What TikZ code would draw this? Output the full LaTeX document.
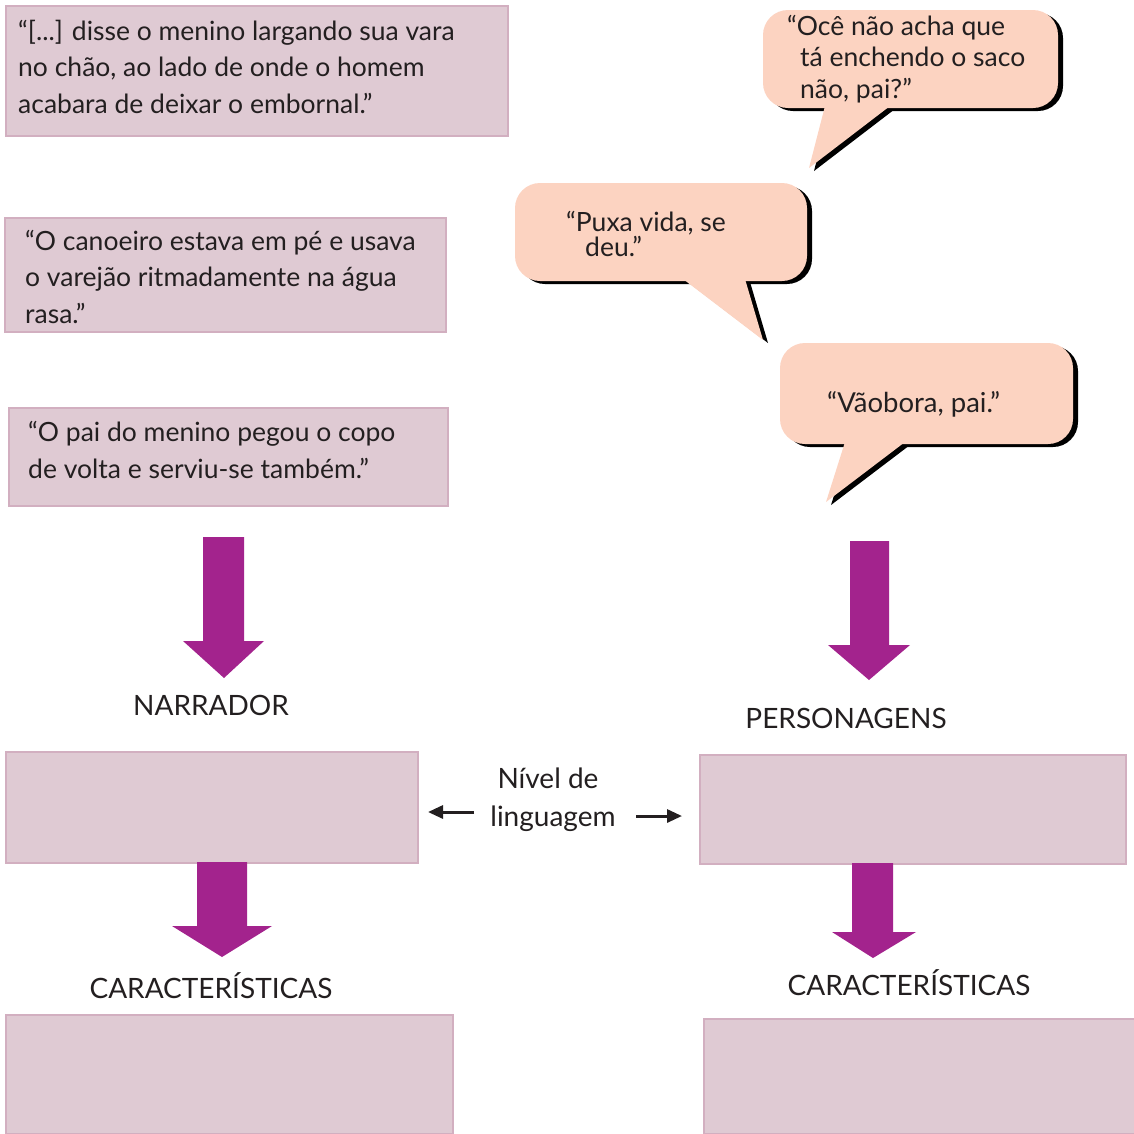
\documentclass[tikz,border=0pt]{standalone}
\usepackage{fontspec}
\setmainfont{Lato}
\usetikzlibrary{arrows.meta}
\definecolor{boxfill}{HTML}{DFCAD3}
\definecolor{boxdraw}{HTML}{D2AFC0}
\definecolor{arrowc}{HTML}{A3238D}
\definecolor{bubfill}{HTML}{FCD3C1}
\definecolor{textc}{HTML}{231F20}
\begin{document}
\begin{tikzpicture}[x=1pt,y=-1pt,
  qbox/.style={fill=boxfill, draw=boxdraw, line width=1.5pt, anchor=north west, inner sep=0pt},
  txt/.style={inner sep=0pt, text=textc, align=left, anchor=base west, font=\fontsize{26.5}{36.3}\selectfont},
  btxt/.style={inner sep=0pt, text=textc, align=left, anchor=base west, font=\fontsize{26.5}{31.5}\selectfont},
  lbl/.style={inner sep=0pt, text=textc, anchor=base, font=\fontsize{28}{38}\selectfont},
  bigarrow/.style={fill=arrowc},
  shadowc/.style={fill=black, shift={(5,3)}},
  bub/.style={fill=bubfill},
  smallarrow/.style={draw=textc, line width=3pt, -{Triangle[length=15pt,width=13pt]}}
]
\useasboundingbox (0,0) rectangle (1134,1133);

% quote boxes
\node[qbox, minimum width=502pt, minimum height=130pt] (b1) at (5,5) {};
\node[qbox, minimum width=441pt, minimum height=114pt] (b2) at (4,217) {};
\node[qbox, minimum width=439pt, minimum height=98pt] (b3) at (8,407) {};
\node[txt] (t1) at (18,113) {“[...] disse o menino largando sua vara\\no chão, ao lado de onde o homem\\acabara de deixar o embornal.”};
\node[txt] (t2) at (25,323) {“O canoeiro estava em pé e usava\\o varejão ritmadamente na água\\rasa.”};
\node[txt] (t3) at (28,478) {“O pai do menino pegou o copo\\de volta e serviu-se também.”};

% bubbles: shadows
\fill[shadowc, rounded corners=25pt] (763,10) rectangle (1058,108);
\fill[shadowc] (825,106) -- (809,168) -- (890,106) -- cycle;
\fill[shadowc, rounded corners=25pt] (515,183) rectangle (807,281);
\fill[shadowc] (683,279) -- (763,340) -- (745,279) -- cycle;
\fill[shadowc, rounded corners=25pt] (780,343) rectangle (1073,444);
\fill[shadowc] (845,442) -- (826,502) -- (905,442) -- cycle;
% bubbles: fills
\fill[bub, rounded corners=25pt] (763,10) rectangle (1058,108);
\fill[bub] (825,106) -- (809,168) -- (890,106) -- cycle;
\fill[bub, rounded corners=25pt] (515,183) rectangle (807,281);
\fill[bub] (683,279) -- (763,340) -- (745,279) -- cycle;
\fill[bub, rounded corners=25pt] (780,343) rectangle (1073,444);
\fill[bub] (845,442) -- (826,502) -- (905,442) -- cycle;
\node[btxt] (s1) at (787,98) {“Ocê não acha que\\\hspace*{13pt}tá enchendo o saco\\\hspace*{13pt}não, pai?”};
\node[btxt, font=\fontsize{26.5}{23}\selectfont] (s2) at (566,256) {“Puxa vida, se\\\hspace*{19pt}deu.”};
\node[btxt, font=\fontsize{27.5}{31.5}\selectfont] (s3) at (827,412) {“Vãobora, pai.”};

% big arrows
\fill[bigarrow] (203,537) -- (244,537) -- (244,641) -- (264,641) -- (224,678) -- (183,641) -- (203,641) -- cycle;
\fill[bigarrow] (850,541) -- (889,541) -- (889,645) -- (910,645) -- (869,680) -- (828,645) -- (850,645) -- cycle;

\node[lbl] (narr) at (211,715) {NARRADOR};
\node[lbl] (pers) at (846,728) {PERSONAGENS};

% lower boxes
\node[qbox, minimum width=412pt, minimum height=111pt] (b4) at (5,751) {};
\node[qbox, minimum width=426pt, minimum height=109pt] (b5) at (699,754) {};

\fill[bigarrow] (197,862) -- (247,862) -- (247,926) -- (272,926) -- (222,957) -- (172,926) -- (197,926) -- cycle;
\fill[bigarrow] (852,863) -- (893,863) -- (893,932) -- (916,932) -- (873,958) -- (832,932) -- (852,932) -- cycle;

\node[lbl] (nivel) at (548,788) {Nível de};
\node[lbl] (ling) at (553,826) {linguagem};
\coordinate (la1) at (474,812);
\coordinate (la2) at (428,812);
\coordinate (ra1) at (636,816);
\coordinate (ra2) at (682,816);
\draw[smallarrow] (la1) -- (la2);
\draw[smallarrow] (ra1) -- (ra2);

\node[lbl] (car1) at (211,998) {CARACTERÍSTICAS};
\node[lbl] (car2) at (909,995) {CARACTERÍSTICAS};

\node[qbox, minimum width=447pt, minimum height=119pt] (b6) at (5,1014) {};
\node[qbox, minimum width=431pt, minimum height=115pt] (b7) at (703,1018) {};
\end{tikzpicture}
\end{document}
